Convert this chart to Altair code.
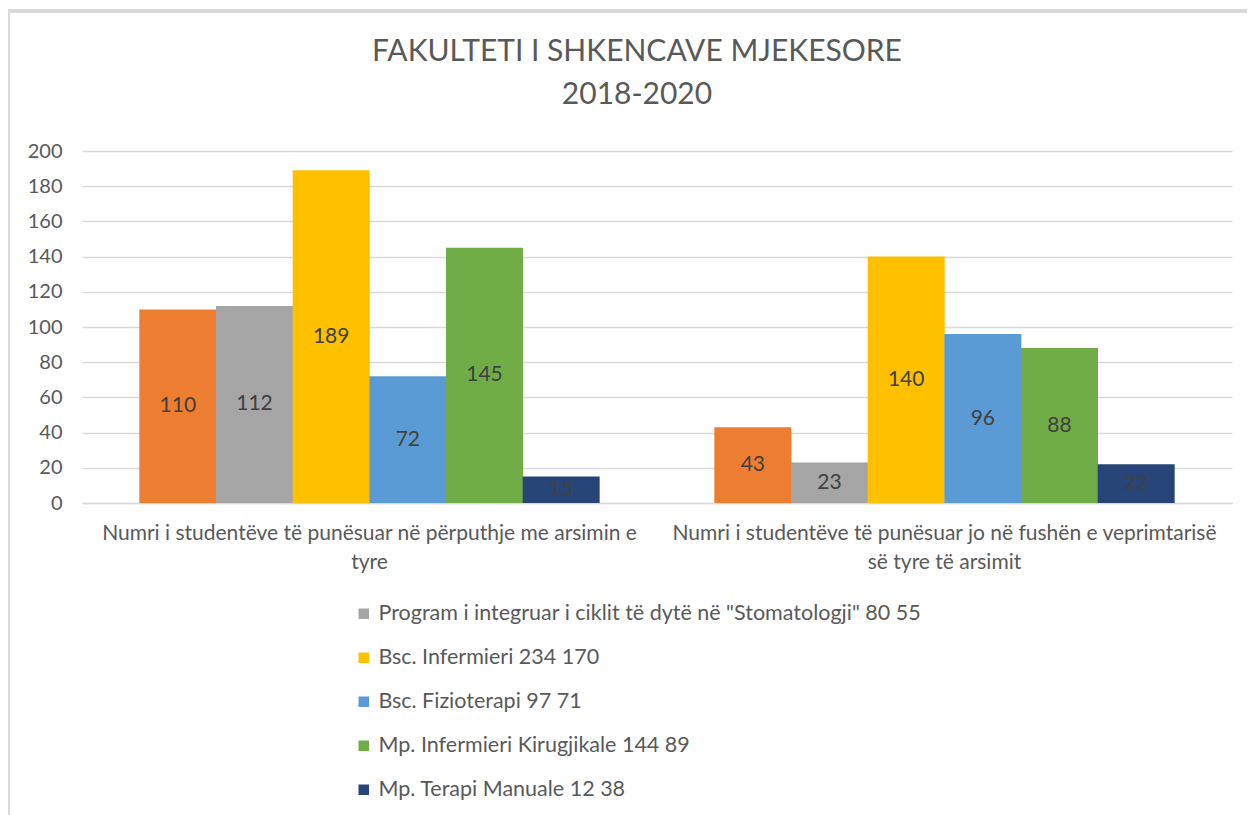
import altair as alt
import pandas as pd

categories = [
    "Numri i studentëve të punësuar në përputhje me arsimin e tyre",
    "Numri i studentëve të punësuar jo në fushën e veprimtarisë së tyre të arsimit",
]
category_lines = [
    ["Numri i studentëve të punësuar në përputhje me arsimin e", "tyre"],
    ["Numri i studentëve të punësuar jo në fushën e veprimtarisë", "së tyre të arsimit"],
]
series = [
    "Seria 1",
    "Program i integruar i ciklit të dytë në \"Stomatologji\" 80 55",
    "Bsc. Infermieri 234 170",
    "Bsc. Fizioterapi 97 71",
    "Mp. Infermieri Kirugjikale 144 89",
    "Mp. Terapi Manuale 12 38",
]
colors = ["#ED7D31", "#A5A5A5", "#FFC000", "#5B9BD5", "#70AD47", "#264478"]
values_group1 = [110, 112, 189, 72, 145, 15]
values_group2 = [43, 23, 140, 96, 88, 22]
y_ticks = [0, 20, 40, 60, 80, 100, 120, 140, 160, 180, 200]

rows = []
for cat, vals in zip(categories, [values_group1, values_group2]):
    for i, (s, v) in enumerate(zip(series, vals)):
        rows.append({"cat": cat, "series": s, "order": i, "value": v})
df = pd.DataFrame(rows)

FONT = "Lato"
TXT = "#595959"

label_expr = " : ".join(
    f"datum.label == {cat!r} ? {lines!r}" for cat, lines in zip(categories, category_lines)
) + " : datum.label"
label_expr = label_expr.replace("'", '"')

x = alt.X("cat:N", sort=categories, title=None,
          scale=alt.Scale(paddingInner=0.2, paddingOuter=0.1),
          axis=alt.Axis(labelExpr=label_expr, labelAngle=0, labelFontSize=21,
                        labelColor=TXT, labelFont=FONT, labelLineHeight=29,
                        labelPadding=19, ticks=False, domainColor="#D9D9D9",
                        domainWidth=1.5, labelLimit=800))
xo = alt.XOffset("series:N", sort=series, scale=alt.Scale(paddingInner=0, paddingOuter=0))
y_scale = alt.Scale(domain=[0, 200])
y_axis = alt.Axis(values=y_ticks, tickCount=12, labelFontSize=20, labelColor=TXT,
                  labelFont=FONT, ticks=False, domain=False, labelOverlap=False,
                  gridColor="#D9D9D9", gridWidth=1.5, labelPadding=20)

bars = alt.Chart(df).mark_bar(size=77).encode(
    x=x,
    xOffset=xo,
    y=alt.Y("value:Q", scale=y_scale, title=None, axis=y_axis),
    color=alt.Color("series:N", sort=series,
                    scale=alt.Scale(domain=series, range=colors),
                    legend=alt.Legend(values=series[1:], title=None, orient="none",
                                      legendX=271, legendY=452, direction="vertical",
                                      labelFont=FONT, labelFontSize=21.5, labelColor=TXT,
                                      symbolType="square", symbolSize=110,
                                      symbolStrokeWidth=0, rowPadding=21,
                                      labelLimit=900, labelOffset=4)),
)

texts = alt.Chart(df).transform_calculate(mid="datum.value / 2").mark_text(
    font=FONT, fontSize=21, color="#404040", baseline="middle"
).encode(
    x=x,
    xOffset=xo,
    y=alt.Y("mid:Q", scale=y_scale, title=None, axis=y_axis),
    text=alt.Text("value:Q"),
)

border_top = alt.Chart(df).mark_rule(color="#D9D9D9", strokeWidth=3).encode(
    x=alt.value(-74), x2=alt.value(1180), y=alt.value(-140)
)
border_left = alt.Chart(df).mark_rule(color="#D9D9D9", strokeWidth=3).encode(
    x=alt.value(-74), y=alt.value(-140), y2=alt.value(670)
)

chart = alt.layer(bars, texts, border_top, border_left).properties(
    width=1150, height=352,
    background="white",
    title=alt.Title(["FAKULTETI I SHKENCAVE MJEKESORE", "2018-2020"],
                    font=FONT, fontSize=30, fontWeight="normal", color=TXT,
                    lineHeight=43, anchor="middle", dx=-20, offset=-100),
    autosize=alt.AutoSizeParams(type="none"),
    padding={"left": 74, "top": 143, "right": 15, "bottom": 312},
).configure_view(strokeWidth=0, stroke="transparent")

chart.save("out.html", embed_options={"renderer": "svg", "actions": False})
